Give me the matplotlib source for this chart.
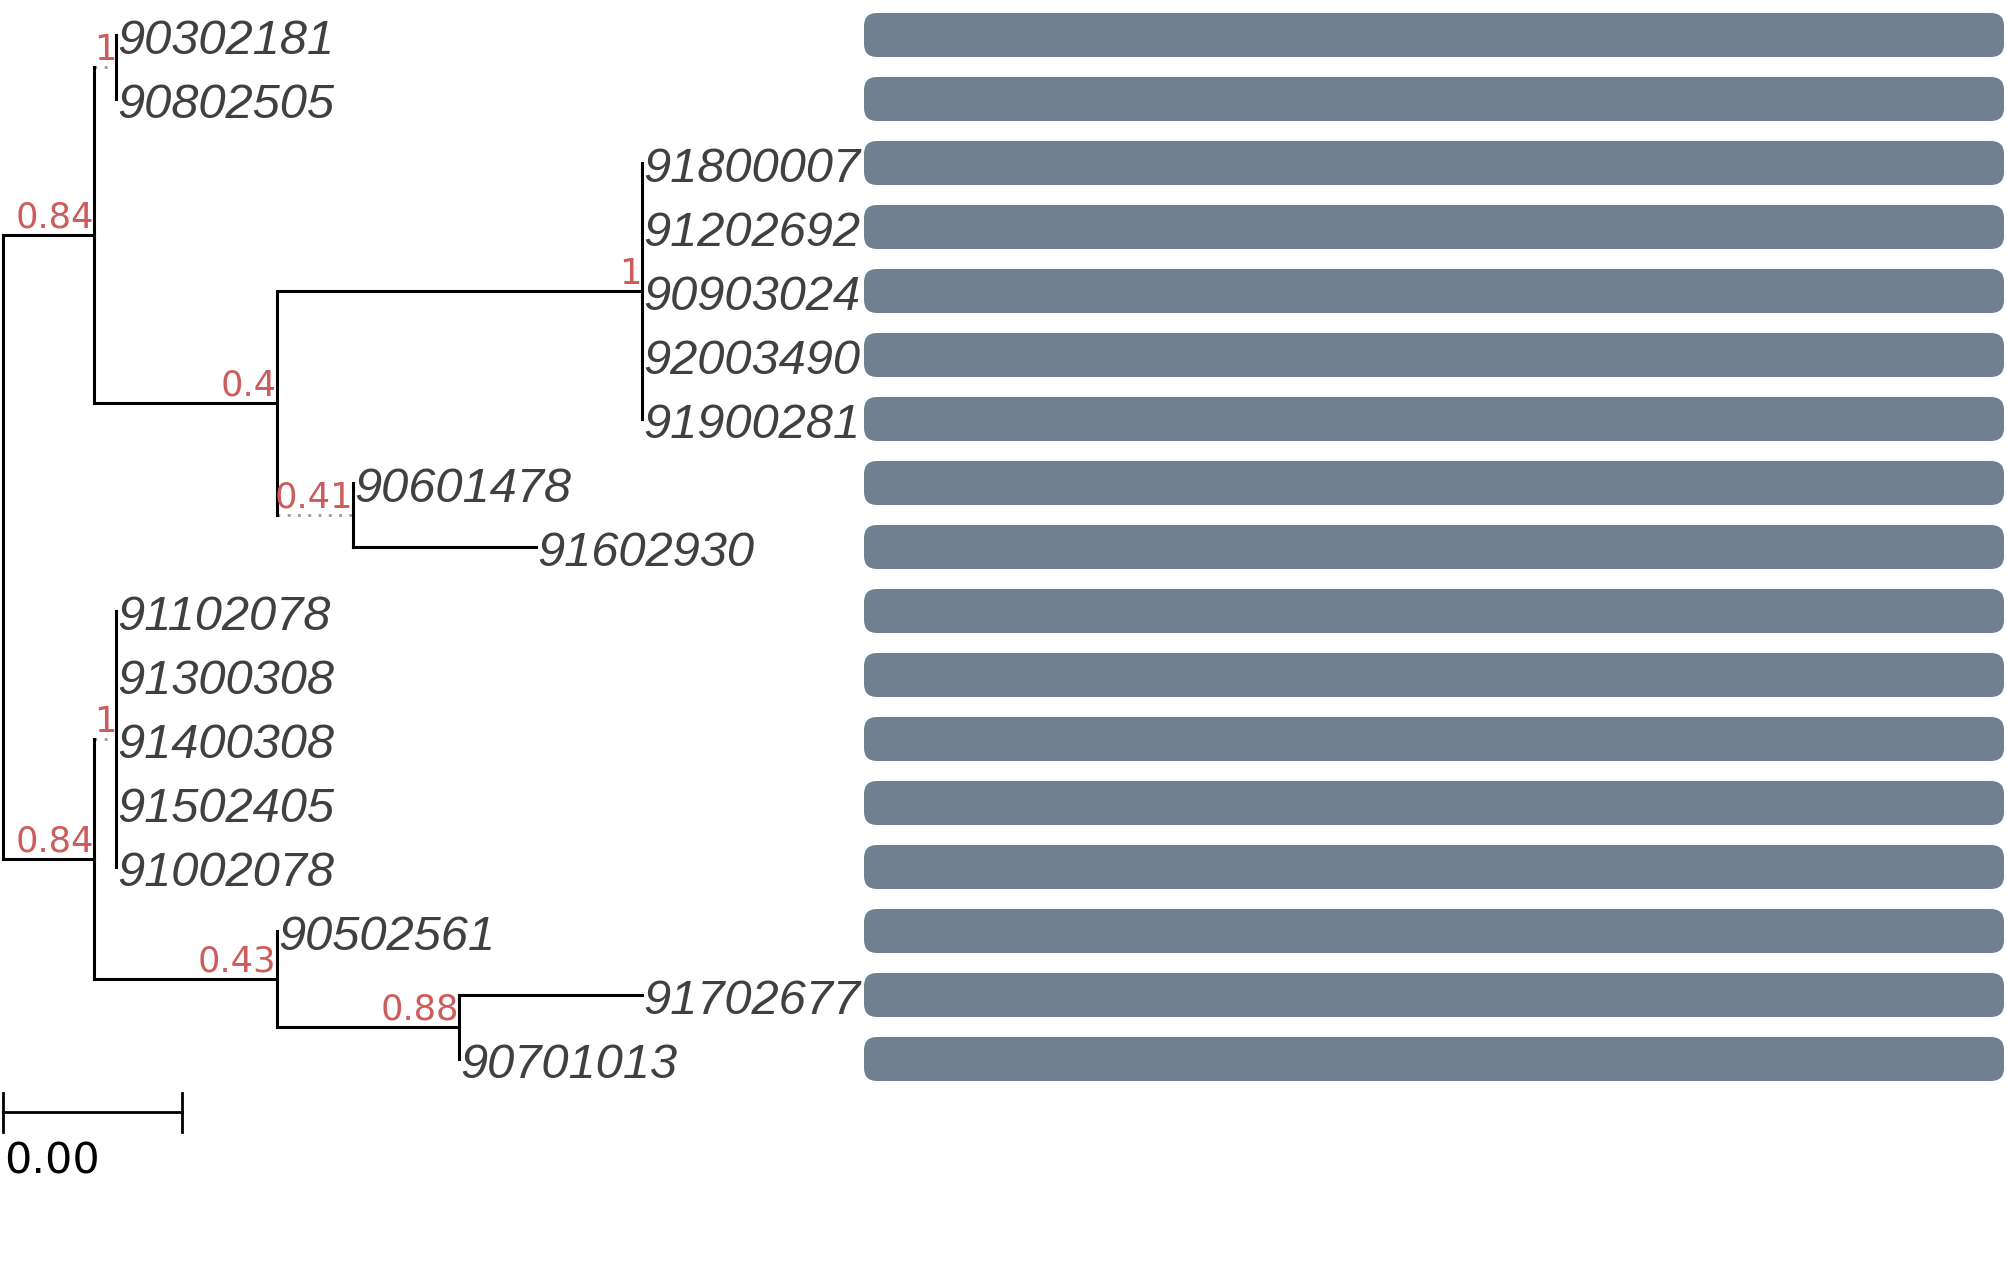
import numpy as np
import matplotlib.pyplot as plt
from matplotlib.patches import FancyBboxPatch

# tips, top to bottom
tip_labels = ["90302181", "90802505", "91800007", "91202692", "90903024",
              "92003490", "91900281", "90601478", "91602930", "91102078",
              "91300308", "91400308", "91502405", "91002078", "90502561",
              "91702677", "90701013"]
tip_parent = ["B", "B", "D", "D", "D", "D", "D", "E", "E",
              "G", "G", "G", "G", "G", "H", "I", "I"]
tip_len = [0, 0, 0, 0, 0, 0, 0, 0, 0.001,
           0, 0, 0, 0, 0, 0, 0.001, 0]

# internal nodes
node_names = ["A", "B", "C", "D", "E", "F", "G", "H", "I"]
node_parent = ["root", "A", "A", "C", "C", "root", "F", "F", "H"]
node_len = [0.0005, 0.00012, 0.001, 0.002, 0.00042, 0.0005, 0.00012, 0.001, 0.001]
node_support = ["0.84", "1", "0.4", "1", "0.41", "0.84", "1", "0.43", "0.88"]
dotted_branches = ["B", "E", "G"]

bar_values = [1, 1, 1, 1, 1, 1, 1, 1, 1, 1, 1, 1, 1, 1, 1, 1, 1]
scale_width = 0.00098
scale_label = "0.00"

# ---- tree layout ----
parent = dict(zip(node_names + tip_labels, node_parent + tip_parent))
blen = dict(zip(node_names + tip_labels, node_len + tip_len))
children = {}
for child, par in parent.items():
    children.setdefault(par, []).append(child)

depth = {"root": 0.0}
def set_depth(n):
    for c in children.get(n, []):
        depth[c] = depth[n] + blen[c]
        set_depth(c)
set_depth("root")

ypos = {t: i for i, t in enumerate(tip_labels)}
def set_y(n):
    if n in ypos:
        return ypos[n]
    ys = [set_y(c) for c in children[n]]
    ypos[n] = (min(ys) + max(ys)) / 2
    return ypos[n]
set_y("root")

# ---- figure ----
W, H, DPI = 2007, 1272, 100
K = 182500.0      # px per unit branch length
X0, Y0, ROW = 3, 35, 64

fig = plt.figure(figsize=(W / DPI, H / DPI), dpi=DPI)
ax = fig.add_axes([0, 0, 1, 1])
ax.set_xlim(-X0 / K, (W - X0) / K)
ax.set_ylim((H - Y0) / ROW, -Y0 / ROW)
ax.axis("off")

lw = 2.2
for n in node_names + tip_labels:
    x0, x1, y = depth[parent[n]], depth[n], ypos[n]
    if x1 - x0 <= 0:
        continue
    if n in dotted_branches:
        ax.plot([x0, x1], [y, y], color="#999999", lw=2.0,
                linestyle=(0, (1.0, 2.7)))
    else:
        ax.plot([x0, x1], [y, y], color="black", lw=lw, solid_capstyle="projecting")

for n in ["root"] + node_names:
    ys = [ypos[c] for c in children[n]]
    ax.plot([depth[n], depth[n]], [min(ys), max(ys)], color="black", lw=lw,
            solid_capstyle="projecting")

for t in tip_labels:
    ax.annotate(t, (depth[t], ypos[t]), xytext=(0.9, -13.8), textcoords="offset points",
                ha="left", va="baseline", fontsize=35.2, style="italic",
                family="Liberation Sans", color="#404040")

for n, s in zip(node_names, node_support):
    ax.text(depth[n], ypos[n], s, ha="right", va="bottom", fontsize=25.4,
            family="DejaVu Sans", color="#cd5c5c")

# scale bar
sy = (1112 - Y0) / ROW
tick = 19.5 / ROW
ax.plot([0, scale_width], [sy, sy], color="black", lw=2.0)
for sx in [0, scale_width]:
    ax.plot([sx, sx], [sy - tick, sy + tick], color="black", lw=2.0)
ax.text(1 / K, (1140 - Y0) / ROW, scale_label, ha="left", va="top",
        fontsize=31, family="DejaVu Sans", color="black")

# ---- bars ----
bx0, bx1 = 864, 2004
bax = fig.add_axes([bx0 / W, 0, (bx1 - bx0) / W, 1])
bax.set_xlim(0, max(bar_values))
bax.set_ylim((H - Y0) / ROW, -Y0 / ROW)
bax.axis("off")
bh = 44 / ROW
r = 13 / (bx1 - bx0) * max(bar_values)
aspect = (1 / ROW) / (max(bar_values) / (bx1 - bx0))
for i, v in enumerate(bar_values):
    bax.add_patch(FancyBboxPatch((0, i - bh / 2), v, bh,
                                 boxstyle=f"round,pad=0,rounding_size={r}",
                                 mutation_aspect=aspect, facecolor="#708090",
                                 edgecolor="none"))

fig.savefig("out.png", dpi=DPI)
